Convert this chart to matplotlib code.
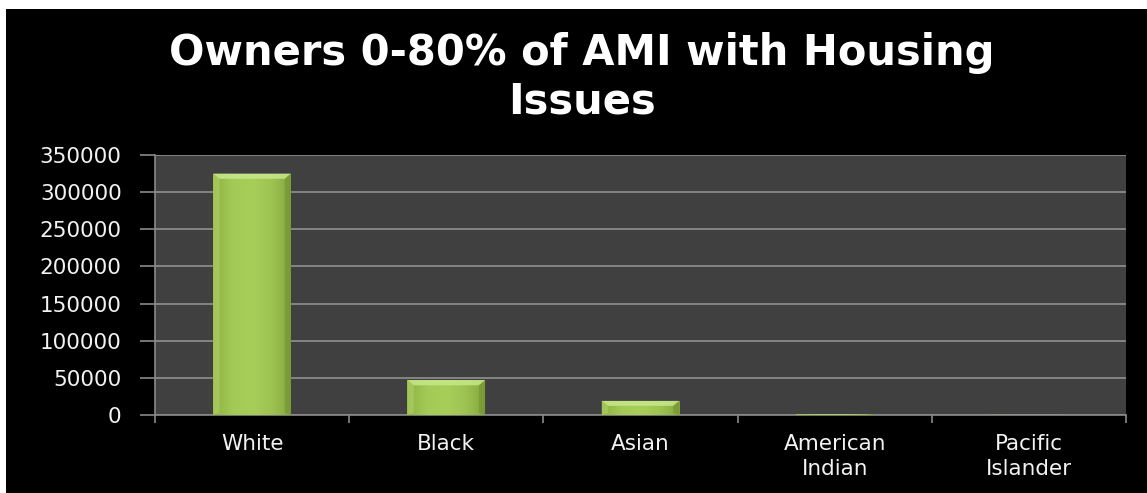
import matplotlib
matplotlib.use("Agg")
import matplotlib.pyplot as plt
import numpy as np
from matplotlib.patches import Rectangle, Polygon

categories = ["White", "Black", "Asian", "American\nIndian", "Pacific\nIslander"]
values = [325000, 47000, 19000, 900, 300]
yticks = [0, 50000, 100000, 150000, 200000, 250000, 300000, 350000]
title = "Owners 0-80% of AMI with Housing\nIssues"

W, H = 1147, 493
fig = plt.figure(figsize=(W / 100, H / 100), dpi=100)
fig.patch.set_facecolor("black")

# white strip at the top / left (slide border)
fig.add_artist(Rectangle((0, 1 - 9 / H), 1, 9 / H, transform=fig.transFigure,
                         facecolor="white", edgecolor="none", zorder=0))
fig.add_artist(Rectangle((0, 0), 6 / W, 1, transform=fig.transFigure,
                         facecolor="white", edgecolor="none", zorder=0))

ax = fig.add_axes([155 / W, 1 - 415 / H, (1126 - 155) / W, (415 - 155) / H])
ax.set_facecolor("#404040")

x = np.arange(len(categories))
bars = ax.bar(x, values, width=0.40, color="#9bc24f", edgecolor="none", zorder=3)

# gradient shading for bevel look
grad = np.linspace(0, 1, 256)
cmap = matplotlib.colors.LinearSegmentedColormap.from_list(
    "g", ["#8fb345", "#a3c957", "#a8ce5a", "#9ec353", "#86a83e"])
for b in bars:
    x0, w, h = b.get_x(), b.get_width(), b.get_height()
    if h <= 0:
        continue
    im = ax.imshow(grad[np.newaxis, :], cmap=cmap, aspect="auto",
                   extent=(x0, x0 + w, 0, h), zorder=3.5)
    im.set_clip_path(b)
    # bevel: light top face with slanted corners
    bev_y = min(h * 0.35, 7000)
    bev_x = w * 0.08
    ax.add_patch(Polygon([(x0, h), (x0 + w, h), (x0 + w - bev_x, h - bev_y),
                          (x0 + bev_x, h - bev_y)], closed=True,
                         facecolor="#c8e88a", edgecolor="none", alpha=0.85, zorder=4))
    ax.add_patch(Polygon([(x0, h), (x0 + bev_x, h - bev_y), (x0 + bev_x, bev_y * 0.4),
                          (x0, 0)], closed=True,
                         facecolor="#b5d86c", edgecolor="none", alpha=0.5, zorder=4))
    ax.add_patch(Polygon([(x0 + w, h), (x0 + w - bev_x, h - bev_y),
                          (x0 + w - bev_x, bev_y * 0.4), (x0 + w, 0)], closed=True,
                         facecolor="#6f8c30", edgecolor="none", alpha=0.5, zorder=4))

ax.set_xlim(-0.5, len(categories) - 0.5)
ax.set_ylim(0, 350000)
ax.set_yticks(yticks)
ax.set_yticklabels([str(v) for v in yticks])
ax.yaxis.grid(True, color="#8a8a8a", linewidth=1.3, zorder=1)
ax.set_axisbelow(True)

ax.set_xticks(x)
ax.set_xticklabels(categories)
ax.set_xticks(np.arange(len(categories) + 1) - 0.5, minor=True)
ax.tick_params(axis="x", which="major", length=0, pad=14)
ax.tick_params(axis="x", which="minor", length=6, color="#8a8a8a", width=1.2)
ax.tick_params(axis="y", length=11, color="#8a8a8a", width=1.2, pad=13)

for lbl in ax.get_xticklabels() + ax.get_yticklabels():
    lbl.set_color("#f2f2f2")
    lbl.set_fontsize(15.5)
    lbl.set_fontfamily("DejaVu Sans")
for lbl in ax.get_xticklabels():
    lbl.set_linespacing(1.3)

for side in ["top", "right"]:
    ax.spines[side].set_visible(False)
ax.spines["left"].set_color("#8a8a8a")
ax.spines["bottom"].set_color("#8a8a8a")
ax.spines["left"].set_linewidth(1.2)
ax.spines["bottom"].set_linewidth(1.2)

fig.text(582 / W, 1 - 77 / H, title, ha="center", va="center", color="white",
         fontsize=30, fontweight="bold", fontfamily="DejaVu Sans", linespacing=1.2)

fig.savefig("out.png", dpi=100, facecolor=fig.get_facecolor())
